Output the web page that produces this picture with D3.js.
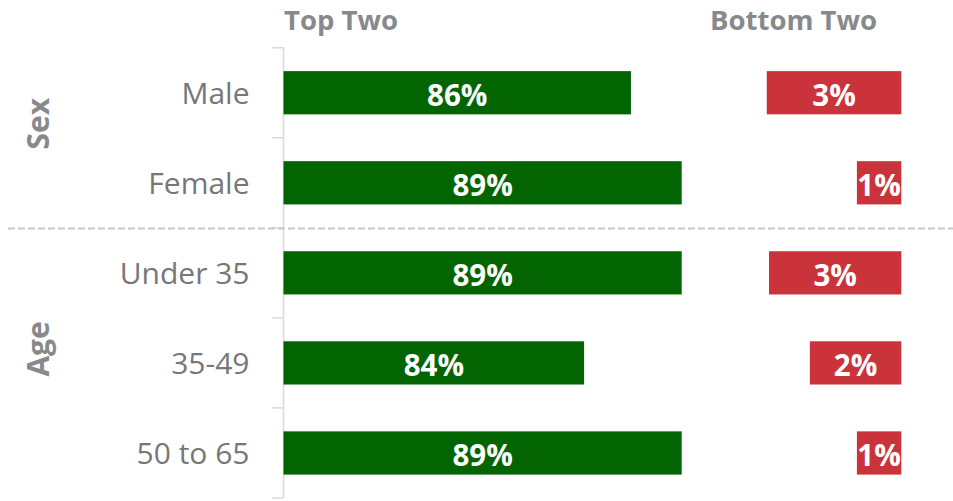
<!DOCTYPE html>
<html>
<head>
<meta charset="utf-8">
<script src="https://cdn.jsdelivr.net/npm/d3@7"></script>
<style>
  body { margin: 0; background: #fff; }
  text { font-family: "Open Sans", "Noto Sans", sans-serif; }
</style>
</head>
<body>
<svg id="chart" width="953" height="501"></svg>
<script>
const svg = d3.select("#chart");
const width = +svg.attr("width");

// datos
const categorias = ["Male", "Female", "Under 35", "35-49", "50 to 65"];
const grupos = ["Sex", "Age"];
const grupoDe = ["Sex", "Sex", "Age", "Age", "Age"];
const topTwo = [86.4, 89.0, 89.0, 84.0, 89.0];
const bottomTwo = [3.03, 1.0, 2.98, 2.06, 1.0];
const encabezados = ["Top Two", "Bottom Two"];

const y = d3.scaleBand()
  .domain(categorias)
  .range([47.7, 498])
  .paddingInner(0.52)
  .paddingOuter(0.26);

const xTop = d3.scaleLinear().domain([68.6, 89]).range([283.5, 681.7]);
const xBot = d3.scaleLinear().domain([0, 3]).range([0, 133.2]);
const derecha = 901.3;

const gris = "#777777";
const grisTitulo = "#87898b";

// encabezados
svg.append("text")
  .attr("x", 284).attr("y", 29.5)
  .attr("font-size", 27.5).attr("font-weight", 700)
  .attr("fill", grisTitulo)
  .text(encabezados[0]);
svg.append("text")
  .attr("x", 710).attr("y", 29.5)
  .attr("font-size", 27.5).attr("font-weight", 700)
  .attr("fill", grisTitulo)
  .text(encabezados[1]);

// eje vertical con marcas entre filas
const y0 = y.range()[0];
svg.append("line")
  .attr("x1", 283.5).attr("x2", 283.5)
  .attr("y1", y0).attr("y2", y.range()[1])
  .attr("stroke", "#d9d9d9").attr("stroke-width", 1.5);

svg.selectAll(".tick")
  .data(d3.range(categorias.length + 1))
  .enter().append("line")
  .attr("class", "tick")
  .attr("x1", 272).attr("x2", 283.5)
  .attr("y1", i => y0 + i * y.step())
  .attr("y2", i => y0 + i * y.step())
  .attr("stroke", "#d9d9d9").attr("stroke-width", 1.5);

// separador entre grupos
grupos.slice(1).forEach(g => {
  const i = grupoDe.indexOf(g);
  svg.append("line")
    .attr("x1", 8).attr("x2", width)
    .attr("y1", y0 + i * y.step() + 0.6)
    .attr("y2", y0 + i * y.step() + 0.6)
    .attr("stroke", "#c8c8c8").attr("stroke-width", 2)
    .attr("stroke-dasharray", "7,3");
});

// etiquetas de grupo
grupos.forEach(g => {
  const filas = categorias.filter((c, i) => grupoDe[i] === g);
  const top = y(filas[0]) - y.step() * y.paddingOuter();
  const bottom = y(filas[filas.length - 1]) + y.bandwidth() + y.step() * y.paddingOuter();
  const cy = (top + bottom) / 2 - 14;
  svg.append("text")
    .attr("transform", `translate(49,${cy}) rotate(-90)`)
    .attr("text-anchor", "middle")
    .attr("font-size", 30).attr("font-weight", 700)
    .attr("fill", grisTitulo)
    .text(g);
});

// etiquetas de categoria
svg.selectAll(".cat")
  .data(categorias)
  .enter().append("text")
  .attr("class", "cat")
  .attr("x", 249.5)
  .attr("y", d => y(d) + y.bandwidth() / 2 + 11.5)
  .attr("text-anchor", "end")
  .attr("font-size", 30)
  .attr("fill", gris)
  .text(d => d);

// barras Top Two
svg.selectAll(".top")
  .data(topTwo)
  .enter().append("rect")
  .attr("class", "top")
  .attr("x", xTop.range()[0])
  .attr("y", (d, i) => y(categorias[i]))
  .attr("width", d => xTop(d) - xTop.range()[0])
  .attr("height", y.bandwidth())
  .attr("fill", "#026502");

svg.selectAll(".topLbl")
  .data(topTwo)
  .enter().append("text")
  .attr("class", "topLbl")
  .attr("x", d => (xTop(d) + xTop.range()[0]) / 2)
  .attr("y", (d, i) => y(categorias[i]) + y.bandwidth() / 2 + 13.5)
  .attr("text-anchor", "middle")
  .attr("font-size", 29.5).attr("font-weight", 700)
  .attr("fill", "#fff")
  .text(d => Math.round(d) + "%");

// barras Bottom Two
svg.selectAll(".bot")
  .data(bottomTwo)
  .enter().append("rect")
  .attr("class", "bot")
  .attr("x", d => derecha - xBot(d))
  .attr("y", (d, i) => y(categorias[i]))
  .attr("width", d => xBot(d))
  .attr("height", y.bandwidth())
  .attr("fill", "#cb333b");

svg.selectAll(".botLbl")
  .data(bottomTwo)
  .enter().append("text")
  .attr("class", "botLbl")
  .attr("x", d => derecha - xBot(d) / 2)
  .attr("y", (d, i) => y(categorias[i]) + y.bandwidth() / 2 + 13.5)
  .attr("text-anchor", "middle")
  .attr("font-size", 29.5).attr("font-weight", 700)
  .attr("fill", "#fff")
  .text(d => Math.round(d) + "%");
</script>
</body>
</html>
